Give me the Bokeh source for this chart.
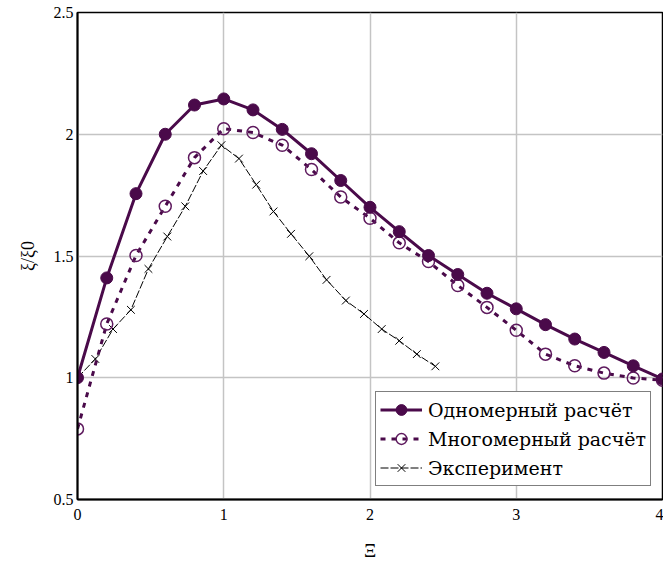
from bokeh.plotting import figure
from bokeh.models import Range1d, FixedTicker, Legend, LegendItem
from bokeh.embed import file_html
from bokeh.resources import INLINE

# Одномерный расчёт
x1 = [0.0, 0.2, 0.4, 0.6, 0.8, 1.0, 1.2, 1.4, 1.6, 1.8, 2.0, 2.2, 2.4, 2.6, 2.8, 3.0, 3.2, 3.4, 3.6, 3.8, 4.0]
y1 = [1.00, 1.41, 1.756, 2.00, 2.12, 2.145, 2.10, 2.02, 1.92, 1.81, 1.70, 1.60, 1.502, 1.424, 1.347, 1.283, 1.218, 1.159, 1.104, 1.049, 0.995]

# Многомерный расчёт
x2 = [0.0, 0.2, 0.4, 0.6, 0.8, 1.0, 1.2, 1.4, 1.6, 1.8, 2.0, 2.2, 2.4, 2.6, 2.8, 3.0, 3.2, 3.4, 3.6, 3.8, 4.0]
y2 = [0.79, 1.221, 1.502, 1.704, 1.904, 2.023, 2.007, 1.955, 1.855, 1.742, 1.655, 1.554, 1.477, 1.379, 1.289, 1.195, 1.097, 1.049, 1.019, 0.999, 0.99]

# Эксперимент
x3 = [0.0, 0.122, 0.243, 0.365, 0.485, 0.614, 0.737, 0.859, 0.984, 1.104, 1.222, 1.34, 1.46, 1.585, 1.703, 1.835, 1.959, 2.08, 2.20, 2.32, 2.447]
y3 = [1.00, 1.077, 1.20, 1.279, 1.447, 1.58, 1.704, 1.849, 1.955, 1.90, 1.793, 1.683, 1.591, 1.499, 1.402, 1.317, 1.262, 1.20, 1.152, 1.097, 1.047]

x_ticks = [0, 1, 2, 3, 4]
y_ticks = [0.5, 1, 1.5, 2, 2.5]

labels = ["Одномерный расчёт", "Многомерный расчёт", "Эксперимент"]

c1 = "#4a0a4a"
c2 = "#5e1a5e"

p = figure(width=663, height=566, output_backend="svg", toolbar_location=None,
           x_range=Range1d(0, 4), y_range=Range1d(0.5, 2.5),
           min_border_left=77, min_border_right=1, min_border_top=12, min_border_bottom=67)

p.outline_line_color = "black"
p.outline_line_width = 1.5
p.background_fill_color = "white"
p.border_fill_color = "white"

for ax in (p.xaxis[0], p.yaxis[0]):
    ax.major_tick_line_color = None
    ax.minor_tick_line_color = None
    ax.major_tick_out = 0
    ax.major_tick_in = 0
    ax.axis_line_color = "black"
    ax.axis_line_width = 2
    ax.major_label_text_font = "Liberation Serif"
    ax.major_label_text_font_size = "16px"
    ax.major_label_text_color = "black"
    ax.axis_label_text_font = "Liberation Serif"
    ax.axis_label_text_font_style = "normal"
    ax.axis_label_text_color = "black"

p.xaxis.ticker = FixedTicker(ticks=x_ticks)
p.yaxis.ticker = FixedTicker(ticks=y_ticks)
p.xaxis.major_label_standoff = 9
p.yaxis.major_label_standoff = 4
p.xaxis.axis_label = "Ξ"
p.yaxis.axis_label = "ξ/ξ0"
p.xaxis.axis_label_text_font_size = "19px"
p.yaxis.axis_label_text_font_size = "18px"
p.xaxis.axis_label_standoff = 17
p.yaxis.axis_label_standoff = 13

p.xgrid.grid_line_color = "#c4c4c4"
p.ygrid.grid_line_color = "#c4c4c4"
p.xgrid.grid_line_width = 1.5
p.ygrid.grid_line_width = 1.5

l3 = p.line(x3, y3, line_color="black", line_width=1, line_dash="8 2")
s3 = p.scatter(x3, y3, marker="x", size=11, line_color="black", line_width=1)

l2 = p.line(x2, y2, line_color=c1, line_width=3, line_dash="5 6")
s2 = p.scatter(x2, y2, marker="circle", size=12, line_color=c2, line_width=1.5, fill_color="white", fill_alpha=0)

l1 = p.line(x1, y1, line_color=c1, line_width=3)
s1 = p.scatter(x1, y1, marker="circle", size=12, line_color=c1, fill_color=c1)

legend = Legend(items=[
    LegendItem(label=labels[0], renderers=[l1, s1]),
    LegendItem(label=labels[1], renderers=[l2, s2]),
    LegendItem(label=labels[2], renderers=[l3, s3]),
], location=(298, 13))
legend.label_text_font = "DejaVu Serif"
legend.label_text_font_size = "19px"
legend.label_text_color = "black"
legend.border_line_color = "black"
legend.border_line_width = 1.5
legend.background_fill_color = "white"
legend.background_fill_alpha = 1
legend.glyph_width = 42
legend.glyph_height = 27
legend.label_height = 27
legend.label_standoff = 6
legend.spacing = 2
legend.padding = 4
legend.margin = 0
p.add_layout(legend, "center")

open("out.html", "w").write(file_html(p, INLINE))
